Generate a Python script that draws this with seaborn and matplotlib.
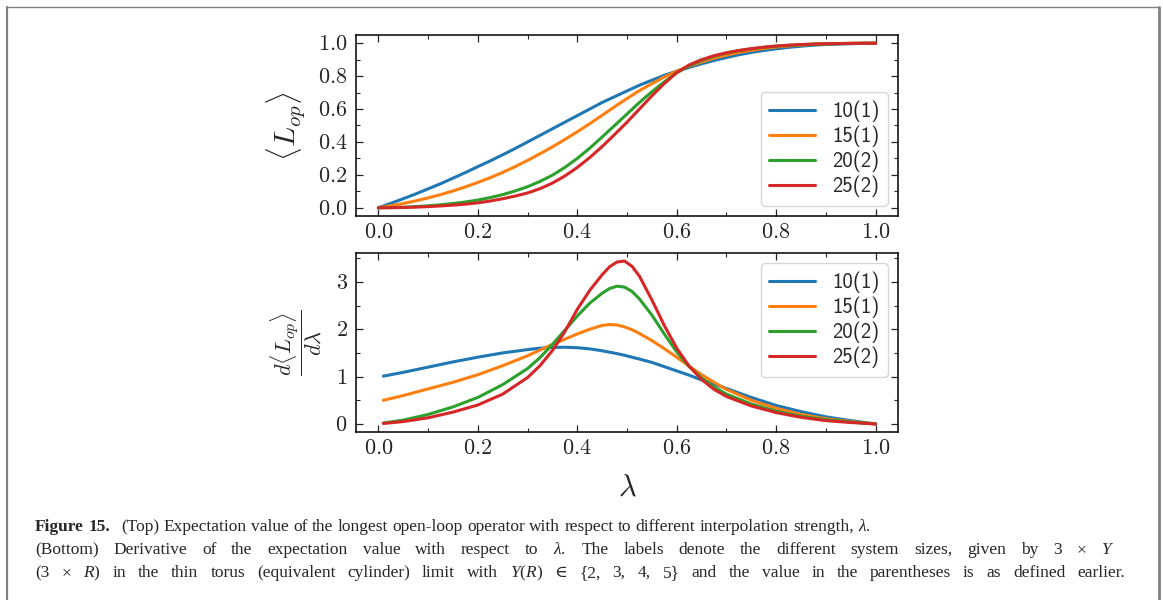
import numpy as np
import pandas as pd
import matplotlib
matplotlib.use("Agg")
import matplotlib.pyplot as plt
from matplotlib.lines import Line2D
from matplotlib.ticker import MultipleLocator, FormatStrFormatter
import seaborn as sns

# ---- data -------------------------------------------------------------
sizes = ["10(1)", "15(1)", "20(2)", "25(2)"]
colors = ["#1f77b4", "#ff7f0e", "#2ca02c", "#d62728"]

# expectation value <L_op> versus interpolation strength lambda
lam_top = [0.0, 0.025, 0.05, 0.075, 0.10, 0.125, 0.15, 0.175, 0.20, 0.225,
           0.25, 0.275, 0.30, 0.325, 0.35, 0.375, 0.40, 0.425, 0.45, 0.475,
           0.50, 0.525, 0.55, 0.575, 0.60, 0.625, 0.65, 0.675, 0.70, 0.725,
           0.75, 0.775, 0.80, 0.825, 0.85, 0.875, 0.90, 0.925, 0.95, 0.975,
           1.00]
lop_10 = [0.0, 0.027, 0.055, 0.084, 0.115, 0.146, 0.18, 0.214, 0.25, 0.285,
          0.322, 0.36, 0.40, 0.44, 0.48, 0.52, 0.56, 0.60, 0.64, 0.675,
          0.71, 0.745, 0.775, 0.805, 0.83, 0.853, 0.875, 0.895, 0.913, 0.93,
          0.944, 0.956, 0.966, 0.975, 0.982, 0.988, 0.992, 0.995, 0.997,
          0.999, 1.0]
lop_15 = [0.0, 0.012, 0.026, 0.042, 0.06, 0.08, 0.102, 0.127, 0.154, 0.183,
          0.215, 0.25, 0.288, 0.328, 0.37, 0.415, 0.462, 0.511, 0.562, 0.614,
          0.664, 0.712, 0.754, 0.795, 0.83, 0.86, 0.886, 0.909, 0.928, 0.944,
          0.957, 0.968, 0.977, 0.984, 0.989, 0.993, 0.996, 0.998, 0.999,
          1.0, 1.0]
lop_20 = [0.0, 0.001, 0.003, 0.007, 0.012, 0.018, 0.026, 0.035, 0.047, 0.062,
          0.08, 0.102, 0.128, 0.16, 0.198, 0.245, 0.30, 0.362, 0.43, 0.50,
          0.57, 0.64, 0.705, 0.765, 0.82, 0.862, 0.895, 0.921, 0.94, 0.955,
          0.966, 0.975, 0.982, 0.987, 0.991, 0.994, 0.996, 0.998, 0.999,
          1.0, 1.0]
lop_25 = [0.0, 0.0005, 0.002, 0.004, 0.007, 0.011, 0.016, 0.022, 0.03, 0.041,
          0.055, 0.071, 0.09, 0.116, 0.15, 0.193, 0.245, 0.305, 0.372, 0.445,
          0.52, 0.60, 0.68, 0.755, 0.822, 0.868, 0.90, 0.924, 0.942, 0.956,
          0.967, 0.976, 0.983, 0.988, 0.992, 0.995, 0.997, 0.998, 0.999,
          1.0, 1.0]

# derivative d<L_op>/d lambda
lam_der = [0.01, 0.05, 0.10, 0.15, 0.20, 0.25, 0.30, 0.325, 0.35, 0.375,
           0.40, 0.425, 0.45, 0.465, 0.48, 0.495, 0.51, 0.525, 0.55, 0.575,
           0.60, 0.625, 0.65, 0.675, 0.70, 0.75, 0.80, 0.85, 0.90, 0.95, 1.00]
der_10 = [1.01, 1.09, 1.20, 1.31, 1.41, 1.50, 1.57, 1.60, 1.615, 1.62, 1.61,
          1.585, 1.545, 1.515, 1.485, 1.45, 1.41, 1.37, 1.30, 1.21, 1.12,
          1.03, 0.93, 0.84, 0.75, 0.56, 0.39, 0.26, 0.15, 0.07, 0.0]
der_15 = [0.50, 0.60, 0.74, 0.88, 1.04, 1.23, 1.44, 1.56, 1.68, 1.79, 1.90,
          2.00, 2.08, 2.10, 2.09, 2.05, 1.99, 1.91, 1.76, 1.59, 1.41, 1.22,
          1.04, 0.88, 0.73, 0.50, 0.33, 0.20, 0.11, 0.05, 0.0]
der_20 = [0.02, 0.08, 0.20, 0.36, 0.56, 0.83, 1.17, 1.40, 1.68, 1.98, 2.28,
          2.55, 2.76, 2.86, 2.91, 2.89, 2.80, 2.64, 2.30, 1.90, 1.52, 1.21,
          0.97, 0.78, 0.63, 0.42, 0.27, 0.16, 0.09, 0.04, 0.0]
der_25 = [0.01, 0.05, 0.13, 0.25, 0.40, 0.63, 0.98, 1.23, 1.55, 1.95, 2.42,
          2.82, 3.15, 3.32, 3.42, 3.44, 3.33, 3.12, 2.62, 2.08, 1.60, 1.22,
          0.94, 0.73, 0.58, 0.38, 0.24, 0.14, 0.07, 0.03, 0.0]


def long_form(lam, series):
    frames = []
    for name, vals in zip(sizes, series):
        frames.append(pd.DataFrame({"lam": lam, "val": vals, "size": name}))
    return pd.concat(frames, ignore_index=True)


df_top = long_form(lam_top, [lop_10, lop_15, lop_20, lop_25])
df_der = long_form(lam_der, [der_10, der_15, der_20, der_25])

# ---- style ------------------------------------------------------------
sns.set_style("ticks")
plt.rcParams.update({
    "font.family": ["Liberation Serif", "DejaVu Serif"],
    "mathtext.fontset": "cm",
    "mathtext.rm": "Liberation Serif",
    "mathtext.it": "Liberation Serif:italic",
    "mathtext.bf": "Liberation Serif:bold",
    "axes.edgecolor": "black",
    "axes.linewidth": 1.1,
    "xtick.direction": "in",
    "ytick.direction": "in",
    "xtick.top": True,
    "ytick.right": True,
    "xtick.major.size": 5,
    "ytick.major.size": 5,
    "xtick.minor.size": 3,
    "ytick.minor.size": 3,
    "xtick.major.width": 0.9,
    "ytick.major.width": 0.9,
    "xtick.minor.width": 0.8,
    "ytick.minor.width": 0.8,
    "xtick.minor.visible": True,
    "ytick.minor.visible": True,
})

W, H = 1163, 600
fig = plt.figure(figsize=(W / 100, H / 100), dpi=100)
fig.patch.set_facecolor("white")

ax1 = fig.add_axes([356 / W, 1 - 216 / H, 542 / W, 181 / H])
ax2 = fig.add_axes([356 / W, 1 - 432 / H, 542 / W, 179 / H])

palette = dict(zip(sizes, colors))
sns.lineplot(data=df_top, x="lam", y="val", hue="size", palette=palette,
             linewidth=2.2, legend=False, ax=ax1)
sns.lineplot(data=df_der, x="lam", y="val", hue="size", palette=palette,
             linewidth=2.2, legend=False, ax=ax2)

tick_fs = 16
for ax in (ax1, ax2):
    ax.set_xlim(-0.045, 1.045)
    ax.xaxis.set_major_locator(MultipleLocator(0.2))
    ax.xaxis.set_minor_locator(MultipleLocator(0.1))
    ax.xaxis.set_major_formatter(FormatStrFormatter(r"$%.1f$"))
    ax.tick_params(axis="both", which="both", labelsize=tick_fs, pad=6)
    ax.set_xlabel("")
    ax.set_ylabel("")

ax1.set_ylim(-0.05, 1.05)
ax1.yaxis.set_major_locator(MultipleLocator(0.2))
ax1.yaxis.set_minor_locator(MultipleLocator(0.1))
ax1.yaxis.set_major_formatter(FormatStrFormatter(r"$%.1f$"))

ax2.set_ylim(-0.17, 3.61)
ax2.yaxis.set_major_locator(MultipleLocator(1))
ax2.yaxis.set_minor_locator(MultipleLocator(0.5))
ax2.yaxis.set_major_formatter(FormatStrFormatter(r"$%d$"))

ax1.set_ylabel(r"$\langle L_{op} \rangle$", fontsize=21.5, labelpad=8)
ax2.set_ylabel(r"$\dfrac{d\langle L_{op}\rangle}{d\lambda}$", fontsize=16,
               labelpad=8)
ax2.set_xlabel(r"$\lambda$", fontsize=22, labelpad=10)

handles = [Line2D([], [], color=c, lw=2.2) for c in colors]
leg_kw = dict(prop={"family": "cmss10", "size": 15}, handlelength=2.2,
              handletextpad=0.8, labelspacing=0.17, borderpad=0.4,
              frameon=True, fancybox=True)
ax1.legend(handles, sizes, loc="lower right", **leg_kw)
ax2.legend(handles, sizes, loc="upper right", **leg_kw)

# ---- caption box ------------------------------------------------------
border = "#808080"
fig.add_artist(Line2D([7 / W, 7 / W], [0, 1 - 7 / H], color=border, lw=1.6,
                      transform=fig.transFigure))
fig.add_artist(Line2D([7 / W, 1159 / W], [1 - 7 / H, 1 - 7 / H], color=border,
                      lw=1.0, transform=fig.transFigure))
fig.add_artist(Line2D([1159 / W, 1159 / W], [0, 1 - 7 / H], color=border,
                      lw=2.0, transform=fig.transFigure))

cap_kw = dict(fontsize=12.5, family=["Liberation Serif", "DejaVu Serif"],
              math_fontfamily="custom", ha="left", va="baseline")
renderer = fig.canvas.get_renderer()


def text_width(s, **kw):
    t = fig.text(0, 0, s, **{**cap_kw, **kw})
    w = t.get_window_extent(renderer).width
    t.remove()
    return w


space_w = text_width("a a") - text_width("aa")


def set_line(words, x0, baseline, right=None):
    """Lay out words on one caption line; justify to `right` if given."""
    texts, widths, extras = [], [], []
    for item in words:
        s, kw = item[0], item[1]
        extra = item[2] if len(item) > 2 else 0.0
        t = fig.text(0, 1 - baseline / H, s, **{**cap_kw, **kw})
        texts.append(t)
        widths.append(t.get_window_extent(renderer).width)
        extras.append(extra)
    if right is None:
        gap = space_w
    else:
        gap = (right - x0 - sum(widths) - sum(extras)) / (len(texts) - 1)
    x = x0
    for t, w, e in zip(texts, widths, extras):
        t.set_x(x / W)
        x += w + gap + e


plain = {}
bold = {"weight": "bold"}

line1 = [("Figure", bold), ("15.", bold, space_w * 1.5)] + [
    (w, plain) for w in
    ("(Top) Expectation value of the longest open-loop operator with "
     "respect to different interpolation strength,").split()
] + [(r"$\lambda$.", plain)]
line2 = [(w, plain) for w in "(Bottom) Derivative of the expectation value "
         "with respect to".split()] + [(r"$\lambda$.", plain)] + [
    (w, plain) for w in "The labels denote the different system sizes, "
    "given by 3 ×".split()] + [(r"$Y$", plain)]
line3 = [("(3", plain), ("×", plain), (r"$R$)", plain)] + [
    (w, plain) for w in "in the thin torus (equivalent cylinder) limit "
    "with".split()] + [(r"$Y$($R$)", plain)] + [
    (w, plain) for w in "∈ {2, 3, 4, 5} and the value in the parentheses "
    "is as defined earlier.".split()]

set_line(line1, 35, 531)
set_line(line2, 35, 554, right=1114)
set_line(line3, 35, 577, right=1125)

fig.savefig("out.png", dpi=100)
